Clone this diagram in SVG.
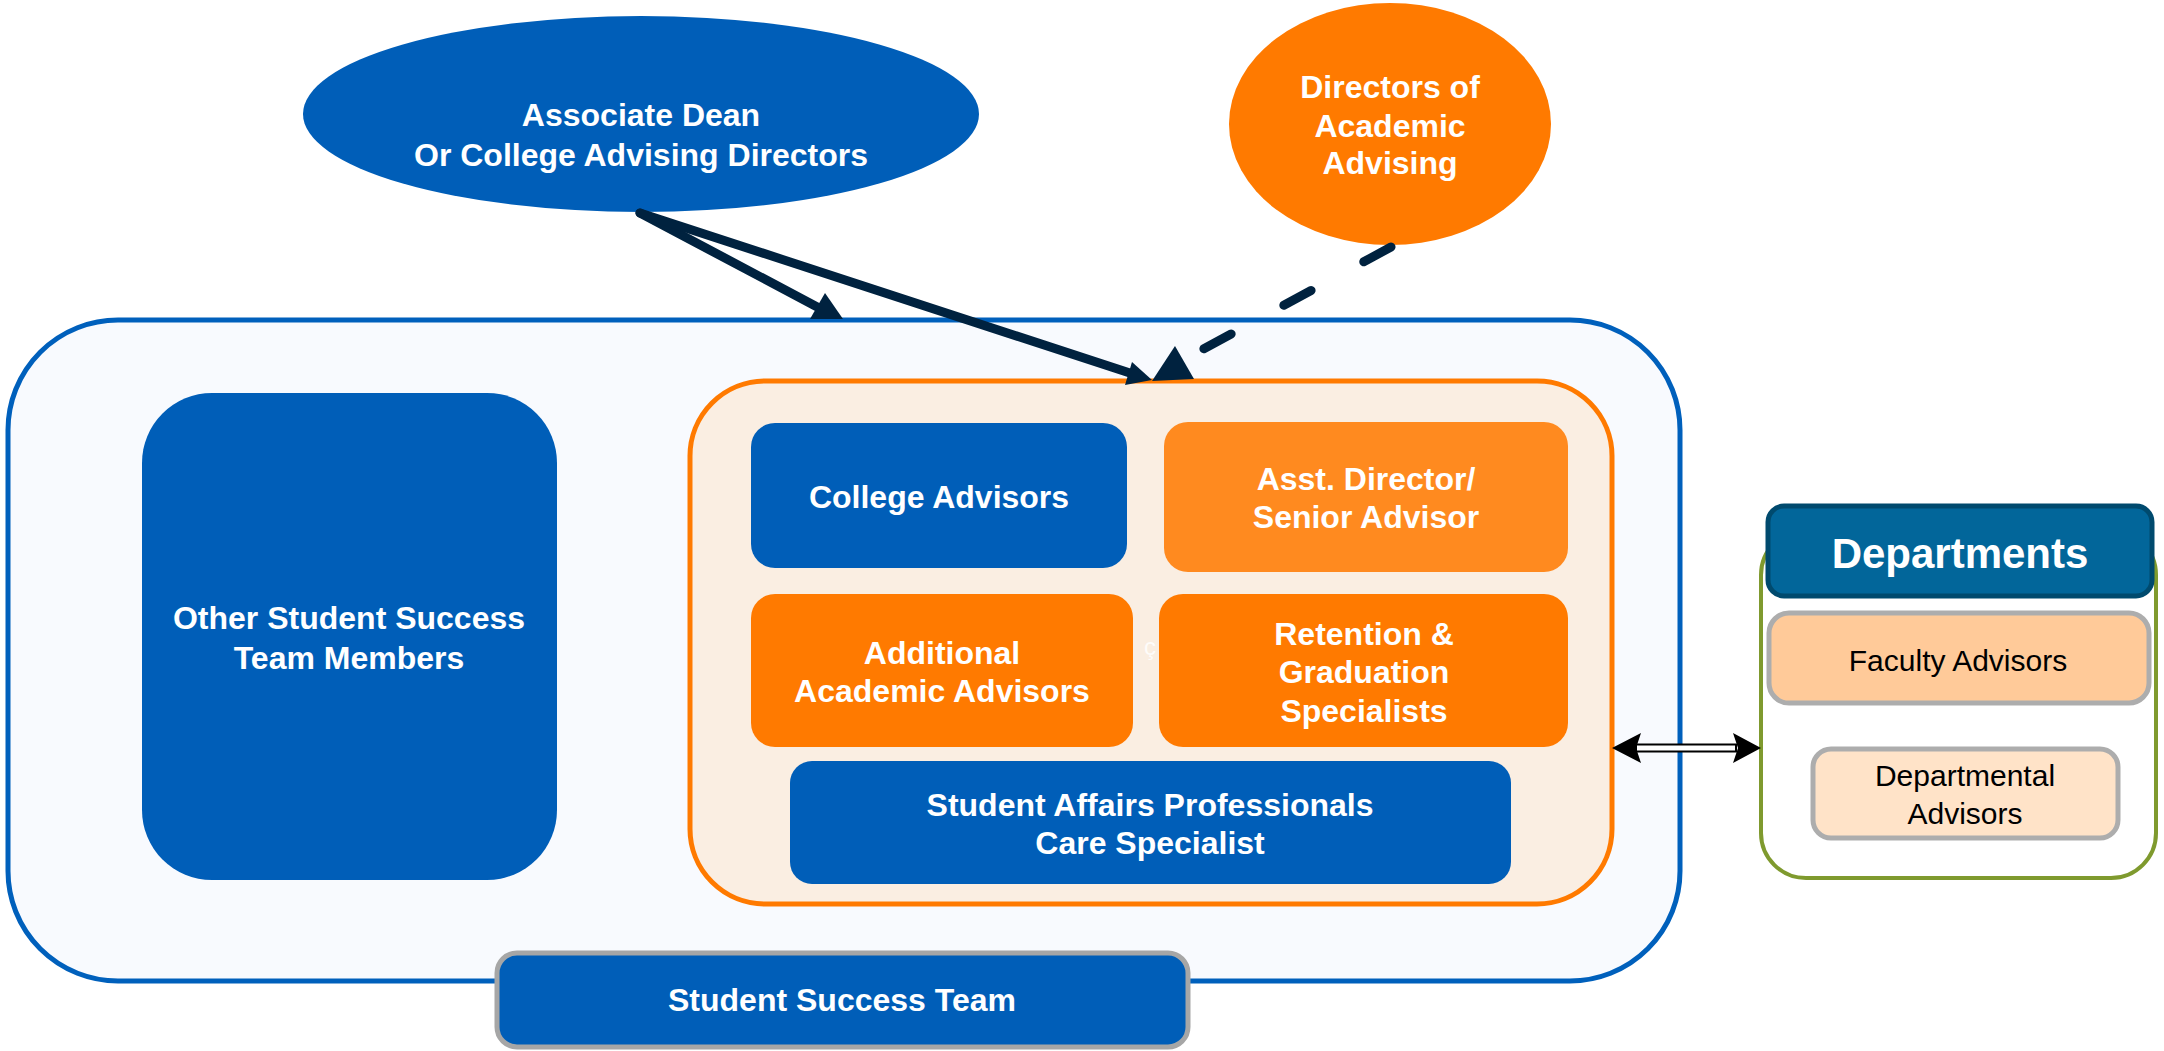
<svg xmlns="http://www.w3.org/2000/svg" width="2164" height="1051" viewBox="0 0 2164 1051">
<style>
text{font-family:"Liberation Sans",Arial,sans-serif;text-anchor:middle}
.w{fill:#ffffff;font-weight:bold;font-size:32px}
.k{fill:#000000;font-size:30px}
.blue{fill:#005EB8}
.org{fill:#FF7A00}
.conn{stroke:#00223F;stroke-width:9;fill:none;stroke-linecap:round}
.head{fill:#00223F}
</style>
<rect width="2164" height="1051" fill="#ffffff"/>

<g id="student-success-team-container">
<rect x="8" y="320" width="1672" height="661" rx="110" ry="110" fill="#F8FAFE" stroke="#0060BC" stroke-width="5"/>
</g>

<g id="other-members">
<rect class="blue" x="142" y="393" width="415" height="487" rx="70" ry="70"/>
<text class="w" x="349" y="629">Other Student Success</text>
<text class="w" x="349" y="669">Team Members</text>
</g>

<g id="advising-container">
<rect x="690" y="381" width="922" height="523" rx="75" ry="75" fill="#FAEEE2" stroke="#FF7A00" stroke-width="5"/>
</g>

<g id="college-advisors">
<rect class="blue" x="751" y="423" width="376" height="145" rx="24" ry="24"/>
<text class="w" x="939" y="508">College Advisors</text>
</g>

<g id="asst-director">
<rect x="1164" y="422" width="404" height="150" rx="24" ry="24" fill="#FF8A1F"/>
<text class="w" x="1366" y="490">Asst. Director/</text>
<text class="w" x="1366" y="528">Senior Advisor</text>
</g>

<g id="additional-advisors">
<rect class="org" x="751" y="594" width="382" height="153" rx="24" ry="24"/>
<text class="w" x="942" y="664">Additional</text>
<text class="w" x="942" y="702">Academic Advisors</text>
</g>

<g id="retention">
<rect class="org" x="1159" y="594" width="409" height="153" rx="24" ry="24"/>
<text class="w" x="1364" y="645">Retention &amp;</text>
<text class="w" x="1364" y="683">Graduation</text>
<text class="w" x="1364" y="722">Specialists</text>
</g>

<g id="stray-char">
<text x="1150" y="655" font-size="24" fill="#FFFFFF" opacity="0.85">ç</text>
</g>

<g id="student-affairs">
<rect class="blue" x="790" y="761" width="721" height="123" rx="22" ry="22"/>
<text class="w" x="1150" y="816">Student Affairs Professionals</text>
<text class="w" x="1150" y="854">Care Specialist</text>
</g>

<g id="sst-label">
<rect class="blue" x="497" y="953" width="691" height="94" rx="20" ry="20" stroke="#A6A6A6" stroke-width="5"/>
<text class="w" x="842" y="1011">Student Success Team</text>
</g>

<g id="departments">
<rect x="1761" y="530" width="395" height="348" rx="45" ry="45" fill="#FFFFFF" stroke="#7F9A2E" stroke-width="4"/>
<rect x="1768" y="506" width="384" height="90" rx="16" ry="16" fill="#02669A" stroke="#004A6E" stroke-width="5"/>
<text x="1960" y="568" font-size="42" font-weight="bold" fill="#FFFFFF">Departments</text>
</g>

<g id="faculty-advisors">
<rect x="1769" y="613" width="380" height="90" rx="20" ry="20" fill="#FFCA99" stroke="#ADADAD" stroke-width="5"/>
<text class="k" x="1958" y="671">Faculty Advisors</text>
</g>

<g id="departmental-advisors">
<rect x="1813" y="749" width="305" height="89" rx="18" ry="18" fill="#FFE3C8" stroke="#ADADAD" stroke-width="5"/>
<text class="k" x="1965" y="786">Departmental</text>
<text class="k" x="1965" y="824">Advisors</text>
</g>

<g id="associate-dean">
<ellipse class="blue" cx="641" cy="114" rx="338" ry="98"/>
<text class="w" x="641" y="126">Associate Dean</text>
<text class="w" x="641" y="166">Or College Advising Directors</text>
</g>

<g id="directors-academic-advising">
<ellipse class="org" cx="1390" cy="124" rx="161" ry="121"/>
<text class="w" x="1390" y="98">Directors of</text>
<text class="w" x="1390" y="137">Academic</text>
<text class="w" x="1390" y="174">Advising</text>
</g>

<g id="connectors">
<path class="conn" d="M640,213 L821,309"/>
<polygon class="head" points="825,293 810,319 843,319"/>
<path class="conn" d="M640,213 L1136,375"/>
<polygon class="head" points="1152,380 1132,362 1125,385"/>
<path class="conn" d="M1391,247 L1198,352" stroke-width="12" stroke-dasharray="31 60"/>
<polygon class="head" points="1175,346 1152,381 1194,379"/>
<rect x="1636" y="744.5" width="100" height="7" fill="#FFFFFF" stroke="#000000" stroke-width="2"/>
<path d="M1612,748 L1641,733 L1636,748 L1641,763 Z" fill="#000000"/>
<path d="M1761,748 L1733,733 L1738,748 L1733,763 Z" fill="#000000"/>
</g>
</svg>
